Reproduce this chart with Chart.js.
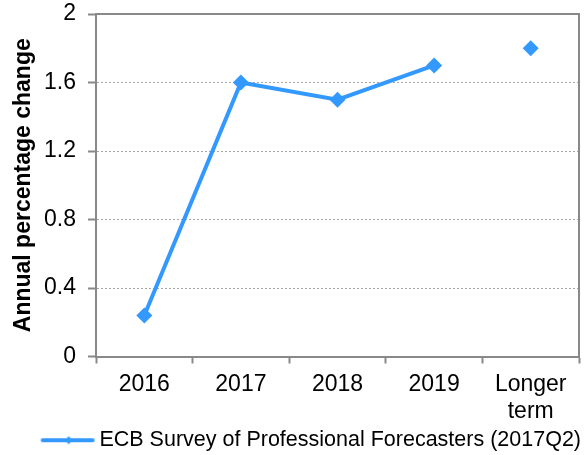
<!DOCTYPE html>
<html>
<head>
<meta charset="utf-8">
<script src="https://cdn.jsdelivr.net/npm/chart.js@4"></script>
<style>
body{margin:0;background:#fff}
#wrap{width:587px;height:455px}
</style>
</head>
<body>
<div id="wrap"><canvas id="chart"></canvas></div>
<script>
const categories=['2016','2017','2018','2019',['Longer','term']]
const spfValues=[0.24,1.6,1.5,1.7,1.8]
const yTicks=[0,0.4,0.8,1.2,1.6,2]
const seriesName='ECB Survey of Professional Forecasters (2017Q2)'

const blue='#3399ff'
const axisGrey='#898989'
const font='Liberation Sans, Arial'

// legend symbol: line with small diamond (wider than the box so it sits close to the text)
const legendIcon=document.createElement('canvas')
legendIcon.width=62;legendIcon.height=10
const lc=legendIcon.getContext('2d')
lc.strokeStyle=blue;lc.lineWidth=4;lc.lineCap='round'
lc.beginPath();lc.moveTo(9,5);lc.lineTo(59,5);lc.stroke()
lc.fillStyle=blue
lc.beginPath();lc.moveTo(35,1);lc.lineTo(39,5);lc.lineTo(35,9);lc.lineTo(31,5);lc.closePath();lc.fill()

const boxPlugin={
  id:'boxPlugin',
  afterDatasetsDraw(chart){
    const {ctx,chartArea:a}=chart
    ctx.save()
    ctx.strokeStyle=axisGrey;ctx.lineWidth=2
    ctx.beginPath()
    ctx.moveTo(a.left,a.top);ctx.lineTo(a.right,a.top);ctx.lineTo(a.right,a.bottom)
    ctx.stroke()
    ctx.restore()
  }
}

new Chart(document.getElementById('chart'),{
  type:'line',
  data:{
    labels:categories,
    datasets:[{
      label:seriesName,
      data:spfValues,
      borderColor:blue,
      backgroundColor:blue,
      borderWidth:4,
      pointStyle:'rectRot',
      pointRadius:8,
      pointBorderWidth:0,
      pointBackgroundColor:blue,
      tension:0,
      segment:{
        borderColor:c=>c.p1DataIndex===4?'rgba(0,0,0,0)':undefined
      }
    }]
  },
  options:{
    responsive:true,
    maintainAspectRatio:false,
    animation:false,
    layout:{padding:{top:14,right:6,left:0,bottom:-6}},
    plugins:{
      tooltip:{enabled:false},
      legend:{
        position:'bottom',
        align:'end',
        labels:{
          usePointStyle:true,
          pointStyleWidth:48,
          generateLabels:()=>[{text:seriesName,pointStyle:legendIcon,fillStyle:blue,strokeStyle:blue,lineWidth:0,fontColor:'#000'}],
          color:'#000',
          padding:0,
          font:{family:font,size:21.5,lineHeight:1}
        }
      }
    },
    scales:{
      x:{
        offset:true,
        grid:{offset:true,drawOnChartArea:false,drawTicks:true,tickLength:7,tickColor:axisGrey,tickWidth:2},
        border:{color:axisGrey,width:2},
        ticks:{color:'#000',padding:8,maxRotation:0,font:{family:font,size:23,lineHeight:1.15}},
        afterFit:s=>{s.height=73}
      },
      y:{
        min:0,max:2,
        afterBuildTicks:s=>{s.ticks=yTicks.map(v=>({value:v}))},
        grid:{color:'#a6a6a6',lineWidth:1,tickLength:8,tickColor:axisGrey,tickWidth:2,tickBorderDash:[]},
        border:{color:axisGrey,width:2,dash:[2,2]},
        ticks:{color:'#000',padding:12,font:{family:font,size:23},callback:v=>String(v)},
        title:{display:true,text:'Annual percentage change',color:'#000',padding:{top:10,bottom:0},font:{family:font,size:23,weight:'bold'}},
        afterFit:s=>{s.width=96;s.paddingTop=0;s.paddingBottom=0}
      }
    }
  },
  plugins:[boxPlugin]
})
</script>
</body>
</html>
